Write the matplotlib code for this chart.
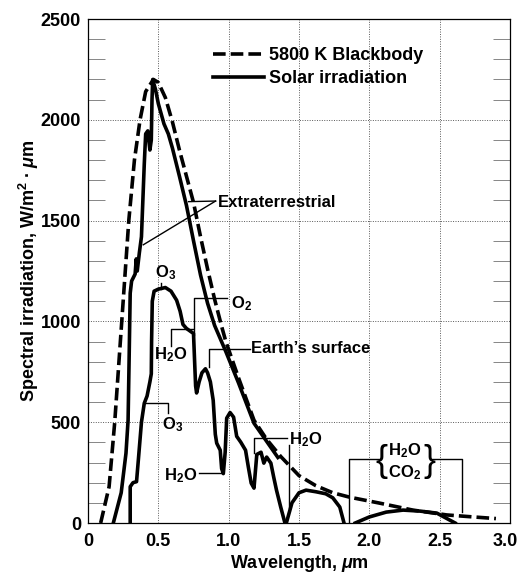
import matplotlib
matplotlib.use("Agg")
import matplotlib.pyplot as plt
from matplotlib.ticker import MultipleLocator
from matplotlib.transforms import ScaledTranslation

plt.rcParams['font.family'] = ['Liberation Sans', 'DejaVu Sans']
plt.rcParams['mathtext.fontset'] = 'custom'
plt.rcParams['mathtext.rm'] = 'Liberation Sans:bold'
plt.rcParams['mathtext.it'] = 'Liberation Sans:italic:bold'
plt.rcParams['mathtext.bf'] = 'Liberation Sans:bold'

# ---- data ----
bb_wl = [0.09, 0.15, 0.19, 0.24, 0.29, 0.33, 0.37, 0.41, 0.465, 0.50, 0.55, 0.60,
         0.65, 0.70, 0.75, 0.80, 0.85, 0.90, 0.95, 0.98, 1.07, 1.18, 1.27, 1.37,
         1.50, 1.62, 1.74, 1.86, 2.07, 2.31, 2.55, 2.74, 2.90]
bb_val = [0, 180, 500, 1000, 1500, 1800, 2000, 2140, 2200, 2185, 2110, 1990,
          1850, 1720, 1590, 1420, 1260, 1110, 975, 900, 720, 510, 415, 330,
          235, 185, 150, 128, 99, 64, 40, 30, 22]

et_wl = [0.18, 0.236, 0.27, 0.285, 0.292, 0.30, 0.31, 0.335, 0.343, 0.35, 0.365,
         0.38, 0.39, 0.40, 0.41, 0.425, 0.44, 0.45, 0.455, 0.46, 0.48, 0.50,
         0.54, 0.571, 0.60, 0.65, 0.70, 0.75, 0.80, 0.85, 0.90, 0.98, 1.07,
         1.18, 1.27, 1.35]
et_val = [0, 150, 346, 510, 800, 1140, 1200, 1235, 1310, 1250, 1340,
          1420, 1600, 1780, 1930, 1945, 1850, 1900, 2100, 2200, 2150, 2080,
          1980, 1930, 1860, 1720, 1575, 1400, 1230, 1090, 980, 850, 695,
          495, 405, 325]

sfc_wl = [0.30, 0.30, 0.32, 0.345, 0.36, 0.38, 0.40, 0.42, 0.44, 0.45, 0.452,
          0.457, 0.47, 0.50, 0.55, 0.59, 0.63, 0.655, 0.675, 0.70, 0.73, 0.75,
          0.758, 0.765, 0.772, 0.79, 0.81, 0.835, 0.85, 0.87, 0.89, 0.905,
          0.915, 0.94, 0.95, 0.962, 0.975, 0.986, 1.01, 1.035, 1.057, 1.086,
          1.12, 1.14, 1.16, 1.18, 1.20, 1.23, 1.25, 1.27, 1.30, 1.32, 1.34,
          1.37, 1.40]
sfc_val = [0, 180, 200, 205, 330, 500, 594, 630, 700, 740, 900,
           1100, 1150, 1160, 1168, 1150, 1105, 1050, 985, 965, 950, 940,
           800, 680, 645, 700, 745, 765, 745, 700, 609, 440,
           396, 361, 270, 245, 350, 520, 548, 525, 430, 401,
           361, 277, 198, 173, 340, 351, 297, 327, 297, 228, 163,
           79, 0]

sfc2_wl = [1.41, 1.45, 1.50, 1.55, 1.62, 1.69, 1.74, 1.79, 1.82]
sfc2_val = [0, 100, 150, 163, 155, 145, 125, 79, 0]

sfc3_wl = [1.90, 2.00, 2.12, 2.24, 2.36, 2.48, 2.57, 2.61]
sfc3_val = [0, 30, 54, 64, 59, 49, 15, 0]

x_ticks = [0, 0.5, 1.0, 1.5, 2.0, 2.5, 3.0]
x_ticklabels = ["0", "0.5", "1.0", "1.5", "2.0", "2.5", "3.0"]
y_ticks = [0, 500, 1000, 1500, 2000, 2500]

# ---- figure ----
fig = plt.figure(figsize=(5.18, 5.73), dpi=100)
ax = fig.add_axes([88/518, 50/573, 422/518, 504/573])
ax.set_xlim(0, 3.0)
ax.set_ylim(0, 2500)

LW = 2.6
bb_line, = ax.plot(bb_wl, bb_val, color='black', lw=LW, dashes=(3.5, 1.4),
                   label='5800 K Blackbody', solid_capstyle='butt')
et_line, = ax.plot(et_wl, et_val, color='black', lw=LW, label='Solar irradiation',
                   solid_joinstyle='round')
ax.plot(sfc_wl, sfc_val, color='black', lw=LW, solid_joinstyle='round')
ax.plot(sfc2_wl, sfc2_val, color='black', lw=LW, solid_joinstyle='round')
ax.plot(sfc3_wl, sfc3_val, color='black', lw=LW, solid_joinstyle='round')

ax.set_xticks(x_ticks)
ax.set_xticklabels(x_ticklabels)
ax.set_yticks(y_ticks)
ax.yaxis.set_minor_locator(MultipleLocator(100))
ax.tick_params(axis='both', which='major', length=0, labelsize=13, pad=5)
ax.tick_params(axis='x', which='major', pad=7)
ax.tick_params(axis='y', which='minor', direction='in', length=12, width=0.6,
               color='0.45', left=True, right=True)
for lab in ax.get_xticklabels() + ax.get_yticklabels():
    lab.set_fontweight('bold')
last = ax.get_xticklabels()[-1]
last.set_horizontalalignment('right')
last.set_transform(last.get_transform() + ScaledTranslation(0.08, 0, fig.dpi_scale_trans))

ax.grid(True, which='major', linestyle=(0, (1, 1.5)), color='0.35', lw=0.7)
for s in ax.spines.values():
    s.set_linewidth(0.9)

ax.set_xlabel(r"Wavelength, $\mu$m", fontsize=13, fontweight='bold', labelpad=2)
ax.set_ylabel(r"Spectral irradiation, W/m$^2$ $\bullet$ $\mu$m", fontsize=13,
              fontweight='bold', labelpad=0)

leg = ax.legend(handles=[bb_line, et_line], loc='upper left',
                bbox_to_anchor=((213-88)/422, (523-47)/504), frameon=False,
                prop={'weight': 'bold', 'size': 13},
                handlelength=2.8, handletextpad=0.3, labelspacing=0.35,
                borderpad=0, borderaxespad=0)

# ---- annotations ----
TF = dict(fontsize=12, fontweight='bold', color='black')
LK = dict(color='black', lw=1.0)

ax.text(0.92, 1590, "Extraterrestrial", ha='left', va='center', **TF)
ax.plot([0.907, 0.715], [1597, 1594], **LK)
ax.plot([0.907, 0.393], [1597, 1380], **LK)

ax.text(0.55, 1240, r"O$_3$", ha='center', va='center', **TF)
ax.plot([0.52, 0.52], [1190, 1160], **LK)

ax.text(1.02, 1089, r"O$_2$", ha='left', va='center', **TF)
ax.plot([0.99, 0.757, 0.757], [1114, 1114, 935], **LK)

ax.text(0.586, 836, r"H$_2$O", ha='center', va='center', **TF)
ax.plot([0.593, 0.593, 0.745], [880, 960, 960], **LK)

ax.text(1.157, 866, "Earth\u2019s surface", ha='left', va='center', **TF)
ax.plot([1.15, 0.857, 0.857], [861, 861, 775], **LK)

ax.text(0.60, 490, r"O$_3$", ha='center', va='center', **TF)
ax.plot([0.40, 0.571, 0.571], [594, 594, 545], **LK)

ax.text(0.78, 235, r"H$_2$O", ha='right', va='center', **TF)
ax.plot([0.79, 0.955], [247, 247], **LK)

ax.text(1.43, 411, r"H$_2$O", ha='left', va='center', **TF)
ax.plot([1.414, 1.18, 1.18], [421, 421, 347], **LK)
ax.plot([1.43, 1.43], [386, 74], **LK)

ax.text(2.25, 361, r"H$_2$O", ha='center', va='center', **TF)
ax.text(2.25, 250, r"CO$_2$", ha='center', va='center', **TF)
ax.text(2.085, 305, "{", ha='center', va='center', fontsize=26, fontweight='light')
ax.text(2.425, 305, "}", ha='center', va='center', fontsize=26, fontweight='light')
ax.plot([2.07, 1.857, 1.857], [317, 317, 5], **LK)
ax.plot([2.44, 2.657, 2.657], [317, 317, 54], **LK)

fig.savefig("out.png", dpi=100)
